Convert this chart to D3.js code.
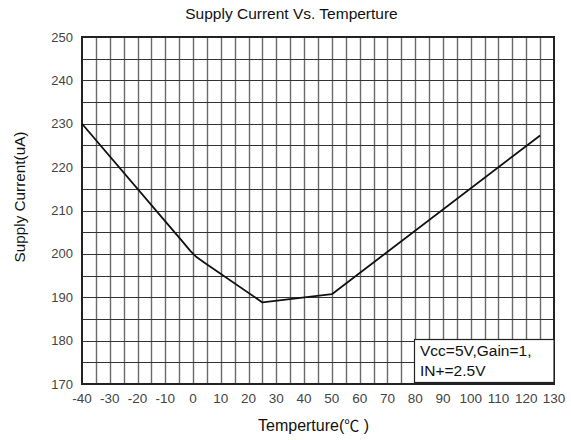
<!DOCTYPE html>
<html>
<head>
<meta charset="utf-8">
<script src="https://cdn.jsdelivr.net/npm/d3@7"></script>
<style>
  body { margin: 0; background: #fff; }
  text { font-family: "Liberation Sans", Arial, sans-serif; }
</style>
</head>
<body>
<svg id="chart" width="571" height="440"></svg>
<script>
// temperature (C) and supply current (uA)
var temps = [-40, -10, -4, -1, 1, 4, 25, 50, 125];
var currents = [230, 207.5, 203, 200.7, 199.4, 198.0, 188.8, 190.7, 227.3];
var xTicks = [-40, -30, -20, -10, 0, 10, 20, 30, 40, 50, 60, 70, 80, 90, 100, 110, 120, 130];
var yTicks = [170, 180, 190, 200, 210, 220, 230, 240, 250];
var noteLines = ["Vcc=5V,Gain=1,", "IN+=2.5V"];

var svg = d3.select("#chart");
var plotLeft = 82, plotRight = 554, plotTop = 37, plotBottom = 384;

var x = d3.scaleLinear().domain([-40, 130]).range([plotLeft, plotRight]);
var y = d3.scaleLinear().domain([170, 250]).range([plotBottom, plotTop]);

// grid every 5 units
var g = svg.append("g");
g.selectAll(".vg")
    .data(d3.range(-35, 130, 5))
    .enter().append("line")
    .attr("x1", function(d) { return Math.round(x(d)) + 0.5; })
    .attr("x2", function(d) { return Math.round(x(d)) + 0.5; })
    .attr("y1", plotTop).attr("y2", plotBottom)
    .attr("stroke", "#6a6a6a").attr("stroke-width", 1.4);
g.selectAll(".hg")
    .data(d3.range(175, 250, 5))
    .enter().append("line")
    .attr("y1", function(d) { return Math.round(y(d)) + 0.5; })
    .attr("y2", function(d) { return Math.round(y(d)) + 0.5; })
    .attr("x1", plotLeft).attr("x2", plotRight)
    .attr("stroke", "#333").attr("stroke-width", 1);

svg.append("rect")
    .attr("x", plotLeft).attr("y", plotTop)
    .attr("width", plotRight - plotLeft).attr("height", plotBottom - plotTop)
    .attr("fill", "none").attr("stroke", "#222").attr("stroke-width", 2);

// curve
var line = d3.line()
    .x(function(d, i) { return x(temps[i]); })
    .y(function(d) { return y(d); });
svg.append("path")
    .datum(currents)
    .attr("d", line)
    .attr("fill", "none")
    .attr("stroke", "#111")
    .attr("stroke-width", 1.8)
    .attr("stroke-linejoin", "round");

// axes labels
svg.selectAll(".xt")
    .data(xTicks)
    .enter().append("text")
    .attr("x", function(d) { return x(d); })
    .attr("y", 403)
    .attr("text-anchor", "middle")
    .attr("font-size", 13.5)
    .attr("fill", "#444")
    .text(function(d) { return d; });

svg.selectAll(".yt")
    .data(yTicks)
    .enter().append("text")
    .attr("x", 73)
    .attr("y", function(d) { return y(d) + 4.5; })
    .attr("text-anchor", "end")
    .attr("font-size", 13)
    .attr("fill", "#444")
    .text(function(d) { return d; });

svg.append("text")
    .attr("x", 291.5).attr("y", 19)
    .attr("text-anchor", "middle")
    .attr("font-size", 15.5)
    .attr("fill", "#111")
    .text("Supply Current Vs. Temperture");

var xt = svg.append("text")
    .attr("x", 258).attr("y", 431)
    .attr("font-size", 16)
    .attr("fill", "#111");
xt.append("tspan").text("Temperture(");
xt.append("tspan").attr("font-family", "Noto Sans CJK SC").attr("font-size", 15).text("℃");
xt.append("tspan").text(" )");

svg.append("text")
    .attr("transform", "translate(25,197) rotate(-90)")
    .attr("text-anchor", "middle")
    .attr("font-size", 15.3)
    .attr("fill", "#111")
    .text("Supply Current(uA)");

// condition box
svg.append("rect")
    .attr("x", 414.5).attr("y", 339.5)
    .attr("width", plotRight - 414.5).attr("height", 43)
    .attr("fill", "#fff").attr("stroke", "#222").attr("stroke-width", 1.2);
svg.selectAll(".note")
    .data(noteLines)
    .enter().append("text")
    .attr("x", 420)
    .attr("y", function(d, i) { return 356 + i * 20; })
    .attr("font-size", 15.5)
    .attr("fill", "#111")
    .text(function(d) { return d; });
</script>
</body>
</html>
